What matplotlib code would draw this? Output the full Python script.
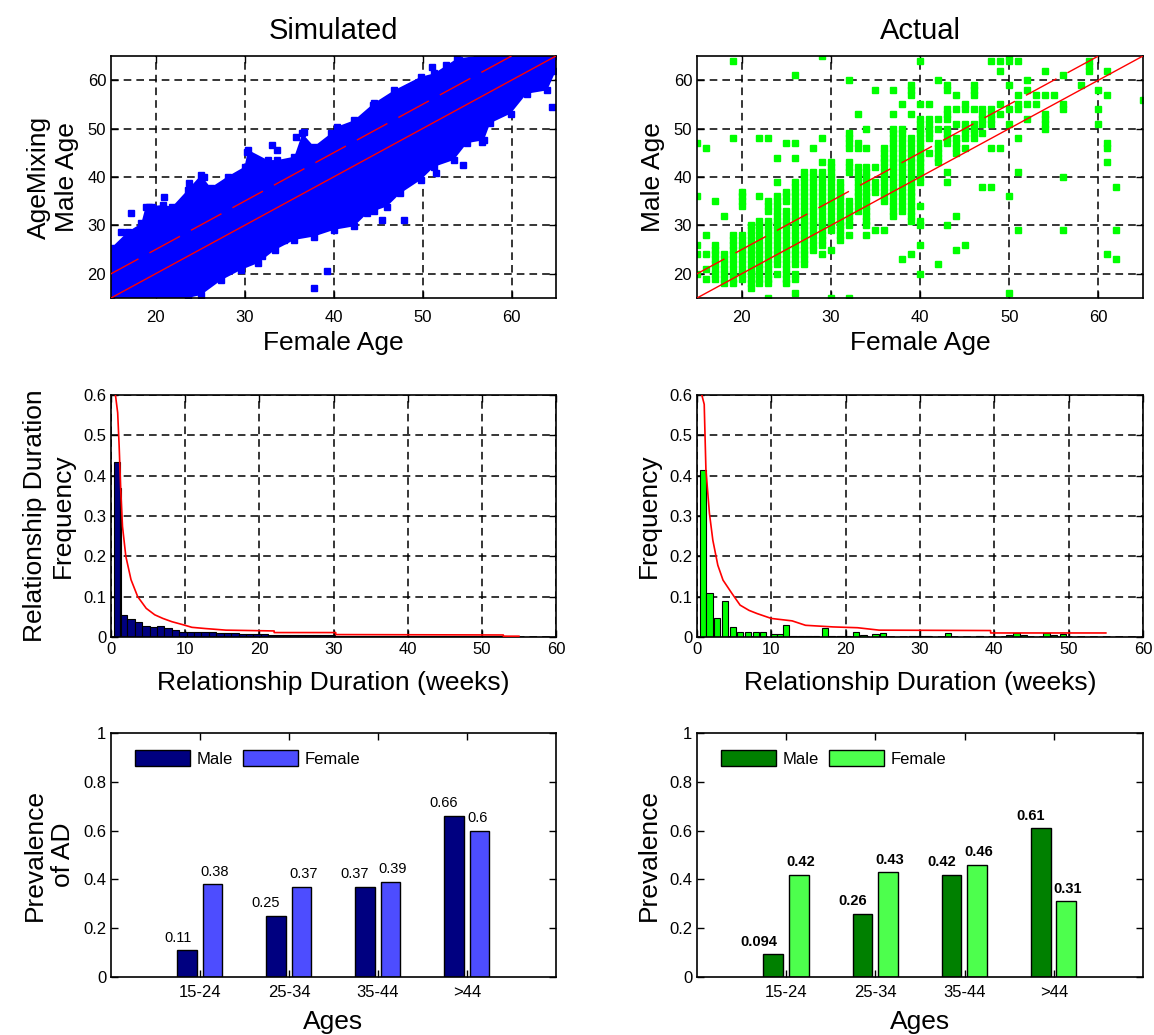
import numpy as np
import matplotlib
matplotlib.use("Agg")
import matplotlib.pyplot as plt

plt.rcParams['font.family'] = ['Liberation Sans', 'DejaVu Sans']

# ---- data -------------------------------------------------------------
# simulated age mixing: outline of the dense cloud (female age, male age)
sim_cloud_f = [15, 15, 16.9, 18.4, 18.9, 20.8, 21.9, 23.6, 25.1, 26.2, 28.1, 30, 30.4,
               32.6, 33.7, 35.6, 36.5, 37.8, 39.7, 40.4, 42.3, 44.5, 46.8, 49.8, 51.3,
               53.9, 56.1, 65, 65, 64, 61.7, 59.9, 57.6, 56.9, 55, 53.5, 51.3, 49.8,
               47.5, 46, 43.8, 42.3, 40.1, 37.8, 35.6, 33.4, 31.5, 29.6, 27.4, 25.1, 23.6]
sim_cloud_m = [15, 25.3, 28.7, 30.4, 33.9, 34.2, 33.9, 37.3, 40.4, 37.8, 40.1, 42.1, 45.6,
               43.5, 43.5, 44.2, 49, 46.3, 49, 50.4, 51.7, 55.2, 57.9, 60.7, 61.4,
               64.5, 65, 65, 62, 57.9, 57.2, 53.1, 51.1, 47.6, 47, 43.5, 42.1, 39.4,
               36.6, 33.9, 32.5, 29.8, 29.1, 27.7, 27, 24.9, 22.2, 20.8, 18.7, 15.6, 15]
# simulated outliers
sim_out_f = [64.6, 51.1, 52.6, 48.5, 49.4, 54.1, 56.5, 56.7, 54.6, 51.5, 44.5, 45.5, 47.9,
             39.3, 37.8, 35.8, 36.7, 33.1, 33.7, 30.3, 34.4, 32.0, 25.5, 23.8, 21.0, 19.3,
             16.1, 57.3, 46.0, 44.4, 19.6, 17.2]
sim_out_m = [54.5, 62.7, 63.1, 58.3, 59.3, 64.1, 51.4, 47.3, 42.5, 40.8, 32.9, 31.1, 31.1,
             20.5, 17.1, 48.3, 49.3, 46.6, 45.6, 45.2, 27.0, 23.6, 40.1, 38.7, 35.9, 33.9,
             28.7, 52.4, 55.5, 54.8, 33.9, 32.5]

# actual age mixing: female age -> male ages of partners
act_pairs = [
    (15, [47, 36, 26, 24, 20]),
    (16, [46, 28, 24, 21, 19]),
    (17, [35, 26, 25, 24, 23, 22, 21, 20, 19]),
    (18, [32, 24, 23, 22, 21, 20, 19, 18]),
    (19, [64, 48, 28, 27, 26, 25, 24, 23, 22, 21, 20, 19, 18]),
    (20, [37, 36, 35, 34, 28, 27, 26, 25, 24, 23, 22, 21, 20, 19]),
    (21, [30, 29, 28, 27, 26, 25, 24, 23, 22, 21, 20, 19, 18, 17]),
    (22, [48, 36, 31, 30, 29, 28, 27, 26, 25, 24, 23, 22, 21, 20, 19, 18]),
    (23, [48, 35, 34, 33, 31, 30, 29, 28, 27, 26, 25, 24, 23, 22, 21, 20, 19, 18, 15]),
    (24, [44, 39, 36, 35, 34, 33, 32, 31, 30, 29, 28, 27, 26, 25, 24, 23, 22, 20]),
    (25, [47, 37, 36, 35, 33, 32, 31, 30, 29, 28, 27, 26, 25, 24, 23, 22, 21, 20, 19, 18]),
    (26, [61, 47, 44, 39, 38, 37, 36, 35, 34, 33, 32, 31, 30, 29, 28, 27, 26, 25, 24, 23,
          22, 20, 19, 16]),
    (27, [41, 40, 39, 38, 37, 36, 35, 34, 33, 32, 31, 30, 29, 28, 27, 26, 25, 24, 23, 22]),
    (28, [46, 41, 40, 39, 38, 37, 36, 35, 34, 33, 32, 31, 30, 29, 28, 27, 26, 25]),
    (29, [65, 48, 43, 41, 40, 39, 38, 37, 36, 35, 34, 33, 32, 31, 30, 29, 28, 27, 26, 24]),
    (30, [43, 42, 41, 40, 39, 38, 37, 36, 35, 34, 33, 32, 31, 30, 29, 25, 15]),
    (31, [39, 38, 37, 36, 35, 34, 33, 32, 31, 30, 29, 28, 27]),
    (32, [60, 49, 48, 47, 46, 43, 42, 41, 35, 34, 33, 32, 31, 30, 28, 15]),
    (33, [53, 47, 46, 42, 41, 40, 39, 38, 37, 36, 35, 34, 33]),
    (34, [50, 46, 42, 41, 40, 39, 38, 37, 36, 35, 34, 33, 32, 31, 30, 28]),
    (35, [58, 42, 39, 38, 37, 29]),
    (36, [46, 45, 44, 43, 42, 41, 40, 39, 38, 37, 36, 35, 29]),
    (37, [58, 53, 50, 49, 48, 47, 46, 45, 44, 43, 42, 41, 40, 39, 38, 37, 36, 35, 34, 33, 32]),
    (38, [55, 50, 49, 48, 47, 46, 45, 44, 43, 42, 41, 40, 39, 38, 37, 36, 35, 34, 33, 23]),
    (39, [59, 58, 57, 53, 48, 47, 46, 45, 44, 43, 42, 41, 40, 39, 38, 37, 36, 35, 34, 33,
          32, 31, 24]),
    (40, [64, 55, 52, 51, 50, 49, 48, 47, 46, 45, 44, 43, 42, 41, 40, 39, 34, 31, 30, 26, 20]),
    (41, [55, 52, 51, 50, 49, 48, 45]),
    (42, [60, 52, 50, 47, 46, 45, 44, 43, 22]),
    (43, [59, 58, 54, 53, 52, 50, 49, 48, 47, 41, 39, 30]),
    (44, [57, 54, 51, 48, 47, 46, 45, 32, 25]),
    (45, [55, 54, 51, 50, 49, 48, 46, 26]),
    (46, [59, 58, 57, 54, 51, 50, 49, 48]),
    (47, [54, 53, 52, 51, 49, 38]),
    (48, [64, 54, 53, 52, 51, 46, 38]),
    (49, [64, 62, 55, 53, 46]),
    (50, [65, 64, 59, 54, 51, 36, 16]),
    (51, [64, 57, 55, 54, 48, 41, 29]),
    (52, [60, 58, 55, 52]),
    (53, [57, 55]),
    (54, [62, 57, 53, 52, 51, 50]),
    (55, [57]),
    (56, [61, 55, 54, 40, 29]),
    (58, [59]),
    (59, [64, 63, 62]),
    (60, [58, 54, 51]),
    (61, [62, 57, 47, 46, 43, 24]),
    (62, [38, 29, 23]),
    (65, [56]),
]
act_f = [f for f, ms in act_pairs for m in ms]
act_m = [m for f, ms in act_pairs for m in ms]

# relationship duration histograms (weeks, frequency)
sim_edges = [0.4, 1.15, 1.4, 2.2, 3.2, 4.2, 5.2, 6.2, 7.2, 8.2, 9.2, 10.2, 11.2, 12.2, 13.2,
             14.2, 15.2, 16.2, 17.2, 18.2, 19.2, 20.2, 21.2, 22.2, 23.2, 24.2, 25.2, 26.2,
             27.2, 28.2, 29.2, 30.2, 31.2, 32.2, 33.2, 34.2, 35.2, 36.2, 37.2, 38.2, 39.2,
             40.2, 41.2, 42.2, 43.2, 44.2, 45.2, 46.2, 47.2, 48.2, 49.2, 50.2, 51.2, 52.2,
             53.2]
sim_freq = [0.435, 0.37, 0.055, 0.044, 0.037, 0.028, 0.026, 0.027, 0.022, 0.017, 0.013,
            0.013, 0.013, 0.013, 0.012, 0.011, 0.010, 0.009, 0.008, 0.008, 0.007, 0.007,
            0.006, 0.006, 0.005, 0.005, 0.005, 0.004, 0.004, 0.004, 0.004,
            0.003, 0.003, 0.003, 0.003, 0.003, 0.003, 0.003, 0.003, 0.003, 0.003,
            0.002, 0.002, 0.002, 0.002, 0.002, 0.002, 0.002, 0.002, 0.002, 0.002, 0.002,
            0.002, 0.002]
sim_fit_x = [0.6, 0.9, 1.1, 1.3, 1.55, 2.0, 2.7, 3.6, 4.75, 5.9, 7.0, 8.2, 9.8, 10.9, 12.7,
             15.5, 22.0, 22.0, 30.3, 30.3, 52.9, 52.9, 55.0]
sim_fit_y = [0.6, 0.556, 0.473, 0.37, 0.274, 0.2, 0.142, 0.1, 0.071, 0.055, 0.046, 0.038,
             0.03, 0.024, 0.021, 0.017, 0.015, 0.011, 0.011, 0.006, 0.005, 0.002, 0.002]

act_dur = [0.8, 1.7, 2.7, 3.8, 4.8, 5.75, 6.85, 7.9, 8.9, 10.4, 11.2, 12.0, 13.0, 14.0,
           15.0, 16.0, 17.2, 18.2, 19.2, 20.2, 21.4, 22.4, 24.0, 25.0, 29.0, 30.0, 31.0,
           33.8, 38.0, 42.0, 43.0, 44.0, 47.0, 48.0, 49.2]
act_freq = [0.413, 0.11, 0.048, 0.09, 0.025, 0.012, 0.012, 0.012, 0.012, 0.008, 0.008,
            0.029, 0.002, 0.002, 0.002, 0.002, 0.023, 0.002, 0.002, 0.002, 0.013, 0.004,
            0.008, 0.01, 0.003, 0.003, 0.003, 0.01, 0.003, 0.005, 0.01, 0.005, 0.01,
            0.005, 0.008]
act_fit_x = [0.65, 0.97, 1.2, 1.67, 2.13, 2.8, 3.5, 4.7, 5.8, 7.0, 8.1, 10, 12.8, 14.6,
             18.3, 21.6, 24.5, 39.5, 39.5, 55]
act_fit_y = [0.6, 0.577, 0.415, 0.307, 0.24, 0.178, 0.141, 0.108, 0.079, 0.066, 0.058,
             0.046, 0.04, 0.029, 0.025, 0.023, 0.017, 0.016, 0.01, 0.01]

# prevalence of age disparate relationships
age_groups = ['15-24', '25-34', '35-44', '>44']
sim_male = [0.11, 0.25, 0.37, 0.66]
sim_female = [0.38, 0.37, 0.39, 0.6]
act_male = [0.094, 0.26, 0.42, 0.61]
act_female = [0.42, 0.43, 0.46, 0.31]

# ---- figure -----------------------------------------------------------
W, H = 1154, 1035
fig = plt.figure(figsize=(W / 100, H / 100), dpi=100)


def px_axes(l, t, r, b):
    return fig.add_axes([l / W, 1 - b / H, (r - l) / W, (b - t) / H])


def style(ax, grid=True):
    ax.tick_params(direction='in', top=True, right=True, length=5, width=1, labelsize=12)
    for s in ax.spines.values():
        s.set_linewidth(1.2)
    ax.set_axisbelow(True)
    if grid:
        ax.grid(True, color='black', linestyle=(0, (5, 3.3)), linewidth=1.1)


LAB = 19
cols = [(111, 556), (697, 1143)]
rows = [(56, 298), (395, 637), (733, 977)]

# --- row 1: age mixing scatter
for j, (title, ylab) in enumerate([('Simulated', 'AgeMixing\nMale Age'), ('Actual', 'Male Age')]):
    ax = px_axes(cols[j][0], rows[0][0], cols[j][1], rows[0][1])
    style(ax)
    ax.tick_params(axis='x', pad=9)
    if j == 0:
        ax.fill(sim_cloud_f, sim_cloud_m, color='#0000ff', lw=0, zorder=2)
        ax.plot(sim_cloud_f, sim_cloud_m, 's', color='#0000ff', ms=4, zorder=2)
        ax.plot(sim_out_f, sim_out_m, 's', color='#0000ff', ms=4, zorder=2)
    else:
        ax.plot(act_f, act_m, 's', color='#00ff00', ms=4, mec='#00ff00', zorder=2)
    ages = np.array([15, 65])
    ax.plot(ages, ages, color='red', lw=1, zorder=3)
    ax.plot(ages - 5, ages, color='red', lw=1, dashes=(25, 9), zorder=3)
    ax.set_xlim(15, 65)
    ax.set_ylim(15, 65)
    ax.set_xticks([20, 30, 40, 50, 60])
    ax.set_yticks([20, 30, 40, 50, 60])
    ax.set_title(title, fontsize=21, pad=12)
    ax.set_xlabel('Female Age', fontsize=LAB, labelpad=4)
    ax.set_ylabel(ylab, fontsize=LAB, labelpad=6)

# --- row 2: relationship duration histograms
for j, ylab in enumerate(['Relationship Duration\nFrequency', 'Frequency']):
    ax = px_axes(cols[j][0], rows[1][0], cols[j][1], rows[1][1])
    style(ax)
    if j == 0:
        ax.bar(sim_edges[:-1], sim_freq, width=np.diff(sim_edges), align='edge',
               color='#000080', edgecolor='black', linewidth=0.8, zorder=2)
        ax.plot(sim_fit_x, sim_fit_y, color='red', lw=1.2, zorder=3)
    else:
        ax.bar(act_dur, act_freq, width=0.85, color='#00ff00', edgecolor='black',
               linewidth=0.8, zorder=2)
        ax.plot(act_fit_x, act_fit_y, color='red', lw=1.2, zorder=3)
    ax.set_xlim(0, 60)
    ax.set_ylim(0, 0.6)
    ax.set_xticks(range(0, 61, 10))
    ax.set_yticks([0, 0.1, 0.2, 0.3, 0.4, 0.5, 0.6])
    ax.set_yticklabels(['0', '0.1', '0.2', '0.3', '0.4', '0.5', '0.6'])
    ax.set_xlabel('Relationship Duration (weeks)', fontsize=LAB, labelpad=10)
    ax.set_ylabel(ylab, fontsize=LAB, labelpad=6)

# --- row 3: prevalence bars
bar_sets = [(sim_male, sim_female, '#000080', '#4d4dff', 'normal', 'Prevalence\nof AD'),
            (act_male, act_female, '#008000', '#4dff4d', 'bold', 'Prevalence')]
x = np.arange(1, len(age_groups) + 1)
for j, (males, females, cm, cf, fw, ylab) in enumerate(bar_sets):
    ax = px_axes(cols[j][0], rows[2][0], cols[j][1], rows[2][1])
    style(ax, grid=False)
    ax.tick_params(axis='x', pad=6)
    bm = ax.bar(x - 0.145, males, width=0.22, color=cm, edgecolor='black', linewidth=1,
                label='Male')
    bf = ax.bar(x + 0.14, females, width=0.22, color=cf, edgecolor='black', linewidth=1,
                label='Female')
    for r, v in zip(bm, males):
        ax.annotate('%g' % v, (r.get_x() + r.get_width(), v), xytext=(-4, 4),
                    textcoords='offset points', ha='right', va='bottom',
                    fontsize=10.5, fontweight=fw)
    for r, v in zip(bf, females):
        ax.annotate('%g' % v, (r.get_x(), v), xytext=(-2, 4),
                    textcoords='offset points', ha='left', va='bottom',
                    fontsize=10.5, fontweight=fw)
    ax.set_xlim(0, 5)
    ax.set_ylim(0, 1)
    ax.set_xticks(x)
    ax.set_xticklabels(age_groups)
    ax.set_yticks([0, 0.2, 0.4, 0.6, 0.8, 1])
    ax.set_yticklabels(['0', '0.2', '0.4', '0.6', '0.8', '1'])
    ax.legend(loc='upper left', ncol=2, frameon=False, fontsize=12, handlelength=3.3,
              handleheight=1.1, handletextpad=0.4, columnspacing=0.6,
              bbox_to_anchor=(0.02, 0.99))
    ax.set_xlabel('Ages', fontsize=LAB, labelpad=7)
    ax.set_ylabel(ylab, fontsize=LAB, labelpad=6)

fig.savefig('out.png', dpi=100)
